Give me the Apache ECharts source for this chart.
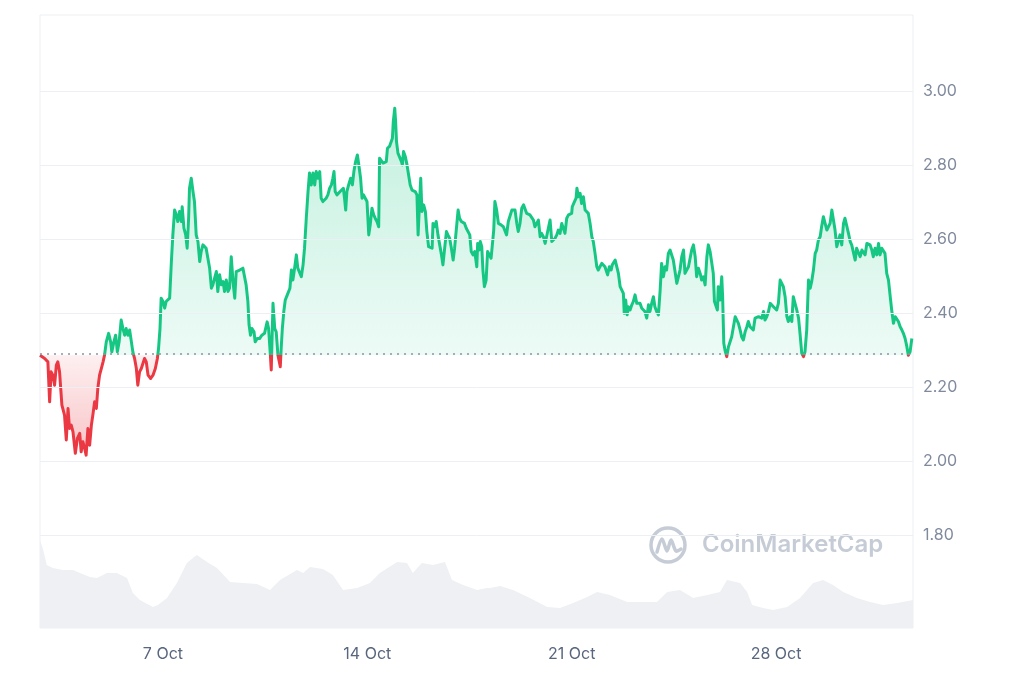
<!DOCTYPE html>
<html><head><meta charset="utf-8">
<script src="https://cdn.jsdelivr.net/npm/echarts@6/dist/echarts.min.js"></script>
<style>html,body{margin:0;padding:0;background:#fff}#c{width:1024px;height:683px}</style>
</head><body><div id="c"></div><script>
// Price reference (open price of the period) — line turns red below it
const baseline = 2.286;
// [day of October (32 = 1 Nov), price USD]
const pricePoints = [
[2.79,2.286],[2.95,2.277],[3.06,2.268],[3.12,2.160],[3.17,2.241],[3.23,2.232],[3.29,2.205],[3.35,2.259],[3.40,2.268],[3.46,2.241],[3.54,2.151],[3.63,2.124],[3.69,2.057],[3.75,2.142],[3.80,2.088],[3.86,2.097],[3.92,2.079],[4.00,2.021],[4.07,2.061],[4.15,2.075],[4.20,2.025],[4.26,2.052],[4.32,2.034],[4.37,2.016],[4.43,2.088],[4.49,2.043],[4.55,2.097],[4.60,2.124],[4.66,2.160],[4.72,2.142],[4.77,2.196],[4.83,2.232],[4.89,2.250],[4.95,2.268],[5.00,2.286],[5.06,2.322],[5.14,2.345],[5.21,2.322],[5.25,2.295],[5.32,2.322],[5.38,2.340],[5.44,2.295],[5.50,2.322],[5.57,2.381],[5.63,2.358],[5.69,2.340],[5.74,2.358],[5.80,2.340],[5.86,2.354],[5.92,2.322],[5.97,2.295],[6.03,2.277],[6.09,2.250],[6.14,2.205],[6.20,2.241],[6.26,2.250],[6.32,2.246],[6.37,2.277],[6.43,2.268],[6.49,2.232],[6.58,2.223],[6.66,2.232],[6.74,2.250],[6.81,2.277],[6.85,2.304],[6.90,2.358],[6.94,2.440],[7.00,2.431],[7.06,2.413],[7.11,2.431],[7.17,2.432],[7.23,2.440],[7.29,2.539],[7.34,2.611],[7.40,2.678],[7.46,2.665],[7.51,2.647],[7.57,2.674],[7.63,2.647],[7.66,2.687],[7.72,2.629],[7.78,2.611],[7.83,2.575],[7.88,2.656],[7.91,2.737],[7.97,2.764],[8.03,2.728],[8.08,2.701],[8.14,2.611],[8.20,2.593],[8.26,2.539],[8.31,2.566],[8.37,2.584],[8.43,2.584],[8.48,2.575],[8.54,2.548],[8.60,2.521],[8.66,2.467],[8.71,2.476],[8.77,2.494],[8.83,2.512],[8.88,2.458],[8.94,2.503],[9.00,2.476],[9.06,2.485],[9.11,2.458],[9.17,2.489],[9.23,2.458],[9.28,2.467],[9.34,2.552],[9.40,2.485],[9.46,2.440],[9.51,2.512],[9.57,2.512],[9.63,2.516],[9.68,2.516],[9.74,2.521],[9.80,2.521],[9.85,2.476],[9.91,2.431],[9.95,2.368],[10.00,2.340],[10.05,2.358],[10.12,2.349],[10.16,2.322],[10.23,2.331],[10.31,2.331],[10.39,2.340],[10.48,2.345],[10.57,2.376],[10.62,2.358],[10.68,2.286],[10.71,2.246],[10.77,2.426],[10.83,2.358],[10.88,2.349],[10.94,2.286],[11.02,2.255],[11.05,2.304],[11.09,2.358],[11.14,2.404],[11.19,2.435],[11.26,2.449],[11.31,2.449],[11.35,2.467],[11.40,2.516],[11.45,2.489],[11.51,2.521],[11.57,2.557],[11.62,2.521],[11.68,2.521],[11.74,2.498],[11.80,2.530],[11.85,2.575],[11.91,2.656],[11.97,2.728],[12.02,2.778],[12.08,2.746],[12.14,2.778],[12.20,2.746],[12.25,2.782],[12.31,2.764],[12.37,2.782],[12.42,2.710],[12.48,2.701],[12.54,2.701],[12.59,2.710],[12.65,2.719],[12.71,2.737],[12.77,2.746],[12.82,2.764],[12.86,2.782],[12.90,2.728],[12.96,2.719],[13.02,2.723],[13.07,2.728],[13.13,2.728],[13.18,2.737],[13.22,2.710],[13.26,2.678],[13.30,2.728],[13.36,2.746],[13.43,2.764],[13.49,2.746],[13.54,2.782],[13.60,2.809],[13.66,2.827],[13.71,2.800],[13.77,2.764],[13.82,2.710],[13.87,2.719],[13.93,2.710],[13.99,2.701],[14.05,2.611],[14.10,2.638],[14.16,2.683],[14.22,2.665],[14.27,2.656],[14.33,2.647],[14.39,2.633],[14.42,2.818],[14.48,2.814],[14.54,2.805],[14.59,2.800],[14.65,2.809],[14.69,2.845],[14.76,2.850],[14.82,2.854],[14.86,2.872],[14.89,2.917],[14.94,2.953],[14.97,2.917],[15.00,2.863],[15.05,2.832],[15.11,2.827],[15.17,2.809],[15.20,2.800],[15.24,2.836],[15.30,2.823],[15.36,2.800],[15.42,2.796],[15.47,2.746],[15.53,2.732],[15.59,2.732],[15.64,2.728],[15.70,2.719],[15.74,2.611],[15.79,2.701],[15.83,2.764],[15.87,2.674],[15.93,2.692],[15.99,2.674],[16.04,2.620],[16.10,2.579],[16.16,2.575],[16.22,2.575],[16.25,2.642],[16.31,2.633],[16.36,2.647],[16.42,2.611],[16.48,2.611],[16.54,2.557],[16.59,2.530],[16.65,2.575],[16.71,2.620],[16.76,2.611],[16.82,2.602],[16.88,2.575],[16.94,2.543],[16.99,2.575],[17.05,2.575],[17.11,2.678],[17.16,2.656],[17.22,2.647],[17.28,2.642],[17.33,2.642],[17.39,2.629],[17.45,2.629],[17.51,2.611],[17.56,2.566],[17.62,2.557],[17.68,2.566],
[17.75,2.525],[17.78,2.588],[17.83,2.570],[17.87,2.593],[17.92,2.579],[17.96,2.516],[18.01,2.471],[18.07,2.489],[18.12,2.566],[18.18,2.557],[18.24,2.548],[18.28,2.543],[18.33,2.624],[18.37,2.701],[18.43,2.678],[18.49,2.642],[18.58,2.638],[18.66,2.633],[18.72,2.638],[18.77,2.611],[18.83,2.647],[18.89,2.651],[18.95,2.678],[19.00,2.678],[19.06,2.678],[19.12,2.642],[19.17,2.620],[19.23,2.642],[19.29,2.683],[19.35,2.692],[19.40,2.696],[19.46,2.669],[19.52,2.674],[19.57,2.665],[19.63,2.660],[19.69,2.651],[19.74,2.633],[19.80,2.629],[19.86,2.651],[19.92,2.606],[19.97,2.615],[20.03,2.606],[20.09,2.588],[20.14,2.606],[20.20,2.629],[20.26,2.651],[20.32,2.593],[20.37,2.597],[20.43,2.602],[20.49,2.611],[20.54,2.624],[20.60,2.615],[20.66,2.642],[20.71,2.638],[20.77,2.615],[20.83,2.656],[20.89,2.665],[20.94,2.660],[21.00,2.669],[21.02,2.687],[21.07,2.696],[21.11,2.701],[21.15,2.710],[21.18,2.737],[21.23,2.714],[21.29,2.723],[21.34,2.696],[21.40,2.714],[21.46,2.678],[21.51,2.683],[21.57,2.669],[21.63,2.642],[21.69,2.606],[21.74,2.593],[21.80,2.561],[21.86,2.525],[21.91,2.516],[21.97,2.512],[22.03,2.534],[22.08,2.534],[22.14,2.525],[22.20,2.530],[22.23,2.503],[22.29,2.525],[22.35,2.516],[22.39,2.530],[22.44,2.525],[22.49,2.543],[22.54,2.539],[22.60,2.507],[22.66,2.471],[22.71,2.476],[22.77,2.453],[22.80,2.399],[22.85,2.435],[22.90,2.395],[22.94,2.417],[23.00,2.408],[23.06,2.422],[23.11,2.431],[23.17,2.449],[23.23,2.426],[23.28,2.422],[23.34,2.426],[23.40,2.413],[23.46,2.408],[23.51,2.404],[23.57,2.386],[23.63,2.422],[23.68,2.404],[23.74,2.426],[23.80,2.444],[23.85,2.417],[23.91,2.404],[23.97,2.395],[24.03,2.462],[24.08,2.534],[24.14,2.498],[24.20,2.525],[24.25,2.516],[24.31,2.561],[24.37,2.570],[24.43,2.570],[24.48,2.543],[24.54,2.512],[24.60,2.480],[24.65,2.480],[24.71,2.516],[24.77,2.552],[24.83,2.570],[24.88,2.507],[24.94,2.516],[25.00,2.525],[25.05,2.525],[25.11,2.570],[25.17,2.584],[25.23,2.552],[25.28,2.498],[25.34,2.521],[25.40,2.507],[25.45,2.489],[25.51,2.498],[25.57,2.476],[25.63,2.552],[25.68,2.584],[25.74,2.566],[25.80,2.534],[25.85,2.507],[25.89,2.431],[25.93,2.426],[25.99,2.408],[26.02,2.471],[26.08,2.435],[26.14,2.498],[26.17,2.444],[26.21,2.318],[26.25,2.300],[26.31,2.282],[26.37,2.309],[26.42,2.313],[26.48,2.336],[26.54,2.363],[26.60,2.390],[26.65,2.386],[26.71,2.372],[26.77,2.354],[26.82,2.336],[26.88,2.327],[26.94,2.349],[27.00,2.363],[27.05,2.377],[27.11,2.363],[27.17,2.367],[27.22,2.354],[27.28,2.386],[27.34,2.381],[27.40,2.390],[27.45,2.386],[27.51,2.386],[27.57,2.404],[27.62,2.381],[27.68,2.390],[27.74,2.404],[27.80,2.426],[27.85,2.431],[27.91,2.417],[27.97,2.413],[28.02,2.408],[28.08,2.426],[28.14,2.489],[28.19,2.489],[28.25,2.471],[28.31,2.444],[28.37,2.390],[28.42,2.377],[28.48,2.390],[28.54,2.377],[28.59,2.444],[28.65,2.426],[28.71,2.408],[28.77,2.386],[28.82,2.345],[28.88,2.291],[28.94,2.282],[28.99,2.295],[29.05,2.354],[29.11,2.489],[29.17,2.467],[29.22,2.485],[29.28,2.516],[29.34,2.561],[29.39,2.570],[29.45,2.597],[29.51,2.606],[29.56,2.633],[29.62,2.660],[29.68,2.642],[29.74,2.624],[29.79,2.620],[29.85,2.642],[29.91,2.678],[29.96,2.674],[30.02,2.624],[30.08,2.579],[30.14,2.579],[30.19,2.611],[30.25,2.584],[30.31,2.642],[30.36,2.656],[30.42,2.651],[30.48,2.615],[30.54,2.593],[30.59,2.584],[30.65,2.579],[30.71,2.543],[30.76,2.575],[30.82,2.570],[30.88,2.552],[30.94,2.570],[30.99,2.566],[31.05,2.557],[31.11,2.588],[31.16,2.593],[31.22,2.584],[31.28,2.570],[31.33,2.552],[31.39,2.575],[31.45,2.557],[31.51,2.588],[31.56,2.557],[31.62,2.575],[31.68,2.579],[31.73,2.561],[31.79,2.507],[31.85,2.489],[31.91,2.444],[31.96,2.408],[32.02,2.372],[32.08,2.390],[32.13,2.386],[32.19,2.377],[32.25,2.363],[32.31,2.354],[32.36,2.345],[32.42,2.331],[32.48,2.309],[32.53,2.286],[32.59,2.295],[32.65,2.331]
];
// [day, trading volume (M USD)]
const volumePoints = [
[2.79,176],[2.90,156],[3.02,126],[3.23,120],[3.57,116],[3.92,116],[4.16,110],[4.50,102],[4.74,100],[5.08,110],[5.42,110],[5.77,100],[5.97,70],[6.21,56],[6.66,42],[6.83,46],[7.14,60],[7.48,90],[7.82,130],[8.16,146],[8.51,132],[8.85,120],[9.30,92],[9.74,90],[10.22,88],[10.67,76],[11.01,96],[11.59,116],[11.80,110],[12.04,122],[12.48,118],[12.82,106],[13.17,76],[13.65,80],[14.09,90],[14.43,110],[15.02,132],[15.36,130],[15.56,110],[15.87,130],[16.25,126],[16.66,132],[16.90,96],[17.28,86],[17.76,76],[18.10,80],[18.20,80],[18.55,84],[18.99,76],[19.57,60],[20.16,42],[20.60,40],[21.05,50],[21.53,62],[21.87,72],[22.31,66],[22.90,52],[23.58,52],[23.92,52],[24.27,72],[24.71,76],[25.16,60],[25.64,66],[26.08,72],[26.32,96],[26.77,90],[27.01,72],[27.18,46],[27.56,40],[27.90,36],[28.38,42],[28.82,60],[29.27,90],[29.61,96],[29.95,86],[30.30,72],[30.77,60],[31.22,52],[31.67,46],[32.15,50],[32.69,56]
];
const priceTicks = [1.8, 2.0, 2.2, 2.4, 2.6, 2.8, 3.0];
const dayTicks = [7, 14, 21, 28];
const dayTickLabels = ['7 Oct', '14 Oct', '21 Oct', '28 Oct'];
const dayRange = [2.79, 32.69];
const priceRange = [1.549, 3.205];
const volumeMax = 1226;

const green = '#16c784', red = '#ea3943';
const chart = echarts.init(document.getElementById('c'), null, {renderer: 'canvas'});
const upArea = pricePoints.map(p => [p[0], Math.max(p[1], baseline)]);
const downArea = pricePoints.map(p => [p[0], Math.min(p[1], baseline)]);

const option = {
  animation: false,
  backgroundColor: '#ffffff',
  grid: {left: 40, right: 111, top: 15, bottom: 55, show: true, borderColor: '#eceff3', borderWidth: 1},
  xAxis: {
    type: 'value', min: dayRange[0], max: dayRange[1],
    axisLine: {show: false}, axisTick: {show: false}, splitLine: {show: false},
    axisLabel: {
      customValues: dayTicks,
      formatter: v => { const i = dayTicks.indexOf(Math.round(v)); return i >= 0 ? dayTickLabels[i] : ''; },
      color: '#58667e', fontSize: 16, fontFamily: 'Inter', margin: 18
    }
  },
  yAxis: [{
    type: 'value', position: 'right', min: priceRange[0], max: priceRange[1],
    axisLine: {show: false}, axisTick: {show: false}, splitLine: {show: false},
    axisLabel: {customValues: priceTicks, formatter: v => v.toFixed(2), color: '#808a9d', fontSize: 16, fontFamily: 'Inter', margin: 10}
  }, {
    type: 'value', min: 0, max: volumeMax, show: false
  }],
  visualMap: {
    show: false, type: 'piecewise', seriesIndex: 3, dimension: 1,
    pieces: [{gte: priceRange[0], lt: baseline, color: red}, {gte: baseline, lte: priceRange[1], color: green}],
    outOfRange: {color: green}
  },
  graphic: [
    {type: 'circle', shape: {cx: 668, cy: 545, r: 17}, style: {fill: 'none', stroke: '#c6ccd6', lineWidth: 3.5}, z: 5},
    {type: 'polyline', shape: {points: [[657, 552], [662, 539], [667, 551], [671, 540], [676, 551], [681, 549]], smooth: 0.3},
      style: {fill: 'none', stroke: '#c6ccd6', lineWidth: 3.5, lineCap: 'round', lineJoin: 'round'}, z: 5},
    {type: 'text', x: 702, y: 545, style: {text: 'CoinMarketCap', fill: '#c6ccd6', font: '600 24px Inter', textVerticalAlign: 'middle'}, z: 5}
  ],
  series: [
    {
      type: 'line', yAxisIndex: 1, data: volumePoints, symbol: 'none', z: 1, silent: true,
      lineStyle: {width: 0}, areaStyle: {color: '#eef0f3', opacity: 1}
    },
    {
      type: 'line', data: upArea, symbol: 'none', z: 2, silent: true,
      lineStyle: {width: 0, opacity: 0},
      areaStyle: {origin: baseline, opacity: 1, color: {type: 'linear', x: 0, y: 0, x2: 0, y2: 1,
        colorStops: [{offset: 0, color: 'rgba(22,199,132,0.26)'}, {offset: 1, color: 'rgba(22,199,132,0.08)'}]}},
      markLine: {silent: true, symbol: ['none', 'none'], label: {show: false},
        lineStyle: {type: 'solid', color: '#eceff3', width: 1},
        data: priceTicks.map(v => ({yAxis: v}))}
    },
    {
      type: 'line', data: downArea, symbol: 'none', z: 2, silent: true,
      lineStyle: {width: 0, opacity: 0},
      areaStyle: {origin: baseline, opacity: 1, color: {type: 'linear', x: 0, y: 0, x2: 0, y2: 1,
        colorStops: [{offset: 0, color: 'rgba(234,57,67,0.08)'}, {offset: 1, color: 'rgba(234,57,67,0.3)'}]}}
    },
    {
      type: 'line', data: pricePoints, symbol: 'none', z: 4,
      lineStyle: {width: 3, join: 'round'},
      markLine: {silent: true, symbol: ['none', 'none'], label: {show: false},
        lineStyle: {type: [2, 5], color: '#8a93a3', width: 1.5},
        data: [{yAxis: baseline}]}
    }
  ]
};
chart.setOption(option);
</script></body></html>
